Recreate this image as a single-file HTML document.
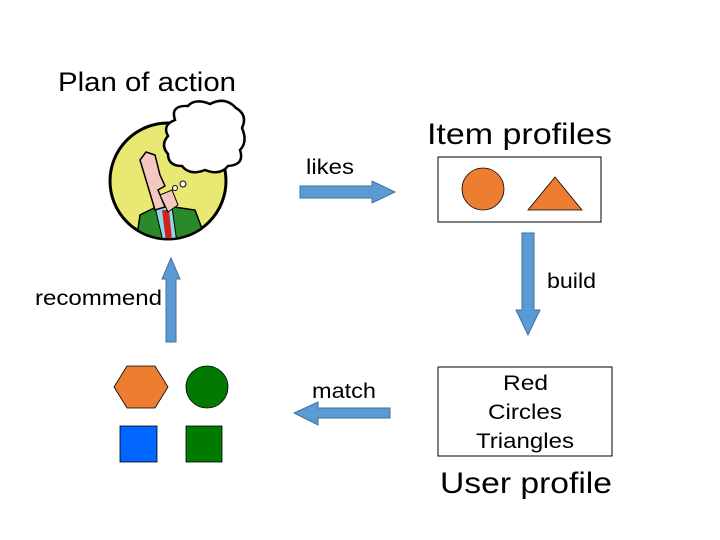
<!DOCTYPE html>
<html><head><style>
body{margin:0;background:#fff;}
svg{display:block}
text{font-family:"Liberation Sans",Arial,sans-serif;fill:#000}
</style></head><body>
<svg width="720" height="540" viewBox="0 0 720 540" xmlns="http://www.w3.org/2000/svg">
<text x="58" y="91" font-size="27" font-weight="300" fill="#222" textLength="178" lengthAdjust="spacingAndGlyphs">Plan of action</text>
<defs><clipPath id="c"><circle cx="168" cy="181" r="57"/></clipPath></defs>
<circle cx="168" cy="181" r="58" fill="#e8e873" stroke="#000" stroke-width="3"/>
<g clip-path="url(#c)">
<path d="M135 250 L140 215 L160 205 L195 210 L210 250 Z" fill="#2a8a2a" stroke="#000" stroke-width="1.5"/>
<path d="M155 207 L165 250 L178 250 L172 207 Z" fill="#8fd8e8" stroke="#000"/>
<path d="M162 210 L167 250 L173 250 L169 210 Z" fill="#d02020"/>
<path d="M140 160 L146 152 L155 155 L160 175 L165 186 L158 190 L165 207 L155 210 Z" fill="#f2c8c0" stroke="#000" stroke-width="1.5"/>
<path d="M160 195 L172 190 L178 205 L168 212 Z" fill="#f2c8c0" stroke="#000"/>
</g>
<circle cx="175" cy="188" r="2.5" fill="#fff" stroke="#000"/>
<circle cx="183" cy="184" r="3" fill="#fff" stroke="#000"/>
<path d="M175 120 Q170 105 188 106 Q195 98 210 104 Q225 96 236 108 Q248 115 242 128 Q248 142 240 150 Q245 165 228 166 Q220 176 205 170 Q190 176 182 166 Q168 166 168 154 Q160 145 168 136 Q162 125 175 120 Z" fill="#fff" stroke="#000" stroke-width="2.5"/>
<text x="306" y="174" font-size="21" textLength="48" lengthAdjust="spacingAndGlyphs">likes</text>
<path d="M300 186 L372 186 L372 181 L395 192 L372 203 L372 198 L300 198 Z" fill="#5b9bd5" stroke="#41719c" stroke-width="1"/>
<text x="427" y="144" font-size="30" textLength="185" lengthAdjust="spacingAndGlyphs">Item profiles</text>
<rect x="438" y="157" width="163" height="65" fill="#fff" stroke="#000" stroke-width="1"/>
<circle cx="483" cy="189" r="21" fill="#ed7d31" stroke="#000" stroke-width="0.8"/>
<path d="M555 177 L582 210 L528 210 Z" fill="#ed7d31" stroke="#000" stroke-width="0.8"/>
<path d="M522 233 L534 233 L534 310 L540 310 L528 335 L516 310 L522 310 Z" fill="#5b9bd5" stroke="#41719c" stroke-width="1"/>
<text x="547" y="288" font-size="21" textLength="49" lengthAdjust="spacingAndGlyphs">build</text>
<text x="35" y="305" font-size="21" textLength="127" lengthAdjust="spacingAndGlyphs">recommend</text>
<path d="M166 342 L166 279 L162 279 L171 258 L180 279 L176 279 L176 342 Z" fill="#5b9bd5" stroke="#41719c" stroke-width="1"/>
<text x="312" y="398" font-size="21" textLength="64" lengthAdjust="spacingAndGlyphs">match</text>
<path d="M390 408 L318 408 L318 402 L294 413 L318 425 L318 418 L390 418 Z" fill="#5b9bd5" stroke="#41719c" stroke-width="1"/>
<path d="M127 366 L155 366 L168 387 L155 408 L127 408 L114 387 Z" fill="#ed7d31" stroke="#000" stroke-width="0.8"/>
<circle cx="207" cy="387" r="21" fill="#007a00" stroke="#000" stroke-width="0.8"/>
<rect x="120" y="426" width="37" height="36" fill="#0066ff" stroke="#000" stroke-width="0.8"/>
<rect x="186" y="426" width="36" height="36" fill="#007a00" stroke="#000" stroke-width="0.8"/>
<rect x="438" y="367" width="174" height="89" fill="#fff" stroke="#000" stroke-width="1"/>
<text x="503" y="390" font-size="21" textLength="45" lengthAdjust="spacingAndGlyphs">Red</text>
<text x="488" y="419" font-size="21" textLength="74" lengthAdjust="spacingAndGlyphs">Circles</text>
<text x="476" y="448" font-size="21" textLength="98" lengthAdjust="spacingAndGlyphs">Triangles</text>
<text x="440" y="493" font-size="30" textLength="172" lengthAdjust="spacingAndGlyphs">User profile</text>
</svg>
</body></html>
